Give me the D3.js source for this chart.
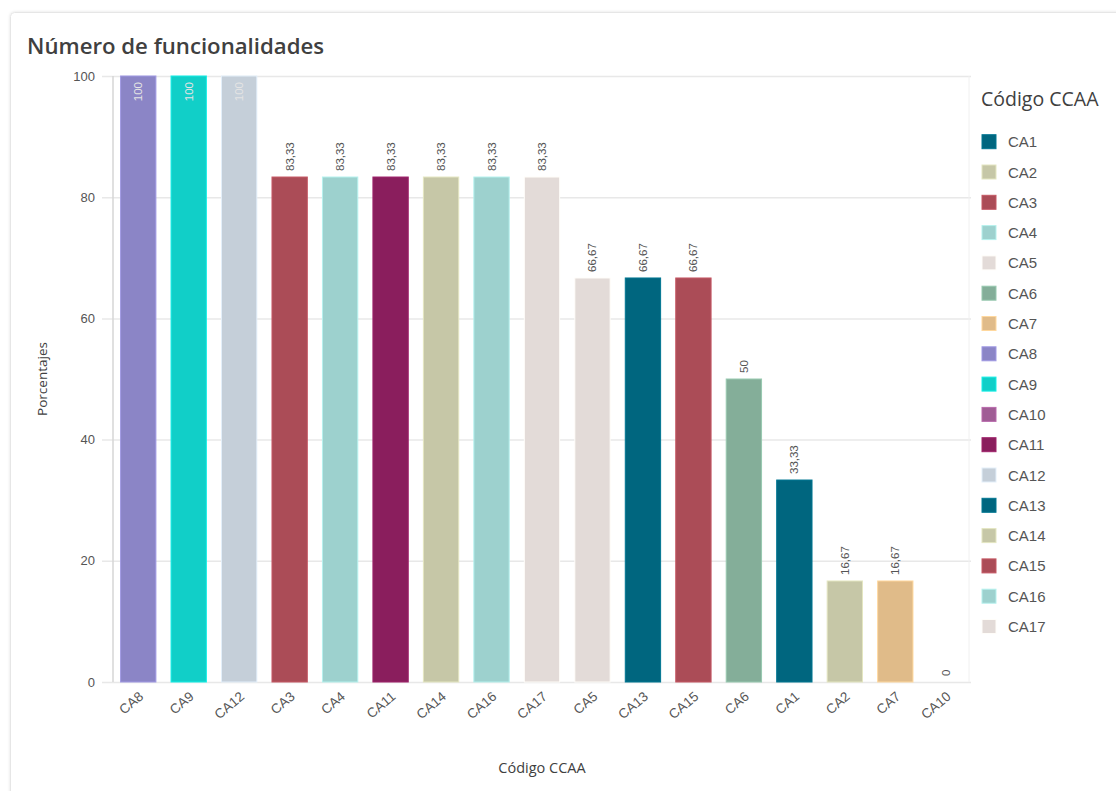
<!DOCTYPE html>
<html>
<head>
<meta charset="utf-8">
<script src="https://cdn.jsdelivr.net/npm/d3@7"></script>
<style>
  html, body { margin: 0; padding: 0; background: #fff; }
  svg { display: block; }
</style>
</head>
<body>
<svg id="chart" width="1116" height="791"></svg>
<script>
// Regions (sorted by value) and their percentages
const categories = ["CA8","CA9","CA12","CA3","CA4","CA11","CA14","CA16","CA17","CA5","CA13","CA15","CA6","CA1","CA2","CA7","CA10"];
const values = [100,100,100,83.33,83.33,83.33,83.33,83.33,83.33,66.67,66.67,66.67,50,33.33,16.67,16.67,0];
const yTicks = [0,20,40,60,80,100];

// Legend entries and their colours
const legendKeys = ["CA1","CA2","CA3","CA4","CA5","CA6","CA7","CA8","CA9","CA10","CA11","CA12","CA13","CA14","CA15","CA16","CA17"];
const legendColors = ["#00667f","#c6c7a7","#ab4c57","#9dd1ce","#e3dbd8","#84ae99","#e0bb89","#8b85c6","#11cfc8","#a05d95","#8a1e5d","#c5cfd9","#00667f","#c6c7a7","#ab4c57","#9dd1ce","#e3dbd8"];

const svg = d3.select("#chart");
const color = d3.scaleOrdinal().domain(legendKeys).range(legendColors);
const fmt = v => d3.format(",.2~f")(v).replace(".", ",");

// Card frame with soft shadow
const defs = svg.append("defs");
const shadow = defs.append("filter").attr("id", "cardShadow")
  .attr("x", "-5%").attr("y", "-5%").attr("width", "110%").attr("height", "110%");
shadow.append("feDropShadow").attr("dx", 0).attr("dy", 0).attr("stdDeviation", 1.5)
  .attr("flood-color", "#000").attr("flood-opacity", 0.12);
svg.append("rect")
  .attr("x", 10.5).attr("y", 12.5).attr("width", 1120).attr("height", 800)
  .attr("rx", 4).attr("fill", "#fff").attr("stroke", "#e6e6e6").attr("stroke-width", 1)
  .attr("filter", "url(#cardShadow)");

svg.append("text")
  .attr("x", 27).attr("y", 54)
  .attr("font-family", "'Open Sans', sans-serif").attr("font-weight", 600)
  .attr("font-size", 22.2).attr("fill", "#404040")
  .text("Número de funcionalidades");

const plotLeft = 113, plotRight = 971, plotTop = 76, plotBottom = 682;

const x = d3.scaleBand().domain(categories).range([plotLeft, plotRight]).paddingInner(0.3).paddingOuter(0.15);
const y = d3.scaleLinear().domain([0, 100]).range([plotBottom, plotTop]);

// Gridlines and y tick labels
const yAxis = svg.append("g").attr("transform", `translate(${plotLeft},0)`)
  .call(d3.axisLeft(y).tickValues(yTicks).tickSize(0).tickPadding(18));
yAxis.select(".domain").remove();
yAxis.selectAll(".tick text")
  .attr("font-family", "'Liberation Sans', Arial, sans-serif").attr("font-size", 13).attr("fill", "#555");
yAxis.selectAll(".tick").append("line")
  .attr("x1", -11).attr("x2", plotRight - plotLeft).attr("stroke", "#e8e8e8").attr("stroke-width", 1.5);
yAxis.selectAll(".tick").filter(d => d === 0).select("line").attr("stroke", "#d6d6d6");

// Vertical lines framing the plot
svg.append("line").attr("x1", plotLeft).attr("x2", plotLeft).attr("y1", plotTop).attr("y2", plotBottom)
  .attr("stroke", "#d6d6d6").attr("stroke-width", 1.5);
svg.append("line").attr("x1", plotRight - 2).attr("x2", plotRight - 2).attr("y1", plotTop).attr("y2", plotBottom)
  .attr("stroke", "#f0f0f0").attr("stroke-width", 1);

const isInside = v => y(v) - 40 < plotTop;

// Bars
svg.append("g").selectAll("rect").data(categories).join("rect")
  .attr("x", d => x(d))
  .attr("y", (d, i) => y(values[i]))
  .attr("width", x.bandwidth())
  .attr("height", (d, i) => plotBottom - y(values[i]))
  .attr("fill", d => color(d))
  .attr("stroke", d => d3.color(color(d)).brighter(0.4))
  .attr("stroke-opacity", (d, i) => values[i] === 0 ? 0.5 : 1)
  .attr("stroke-width", 1);

// Value labels, vertical
svg.append("g").selectAll("text").data(categories).join("text")
  .attr("transform", (d, i) => {
    const cx = x(d) + x.bandwidth() / 2 + 4;
    const yy = isInside(values[i]) ? y(values[i]) + 6 : y(values[i]) - 6;
    return `translate(${cx},${yy}) rotate(-90)`;
  })
  .attr("text-anchor", (d, i) => isInside(values[i]) ? "end" : "start")
  .attr("font-family", "'Liberation Sans', Arial, sans-serif").attr("font-size", 11.5)
  .attr("fill", (d, i) => isInside(values[i]) ? "#e4e4e4" : "#555")
  .text((d, i) => fmt(values[i]));

// X tick labels
const xAxis = svg.append("g").attr("transform", `translate(0,${plotBottom})`)
  .call(d3.axisBottom(x).tickSize(0).tickPadding(0));
xAxis.select(".domain").remove();
xAxis.selectAll(".tick text")
  .attr("font-family", "'Liberation Sans', Arial, sans-serif").attr("font-size", 13.5).attr("fill", "#555")
  .attr("text-anchor", "end").attr("dy", 0)
  .attr("transform", "translate(6,16) rotate(-40)");

// Axis titles
svg.append("text")
  .attr("transform", `translate(47,${(plotTop + plotBottom) / 2}) rotate(-90)`)
  .attr("text-anchor", "middle")
  .attr("font-family", "'Open Sans', sans-serif").attr("font-size", 13.5).attr("fill", "#404040")
  .text("Porcentajes");
svg.append("text")
  .attr("x", 542).attr("y", 773)
  .attr("text-anchor", "middle")
  .attr("font-family", "'Open Sans', sans-serif").attr("font-size", 14.5).attr("fill", "#404040")
  .text("Código CCAA");

// Legend
const legend = svg.append("g");
legend.append("text")
  .attr("x", 981).attr("y", 106)
  .attr("font-family", "'Open Sans', sans-serif").attr("font-size", 19.5).attr("fill", "#404040")
  .text("Código CCAA");
const item = legend.selectAll("g.item").data(legendKeys).join("g")
  .attr("class", "item")
  .attr("transform", (d, i) => `translate(982,${141.7 + i * 30.3})`);
item.append("rect")
  .attr("x", 0).attr("y", -7).attr("width", 14).attr("height", 14)
  .attr("fill", d => color(d)).attr("stroke", d => d3.color(color(d)).brighter(0.4));
item.append("text")
  .attr("x", 26).attr("y", 5.5)
  .attr("font-family", "'Liberation Sans', Arial, sans-serif").attr("font-size", 15).attr("fill", "#555")
  .text(d => d);
</script>
</body>
</html>
